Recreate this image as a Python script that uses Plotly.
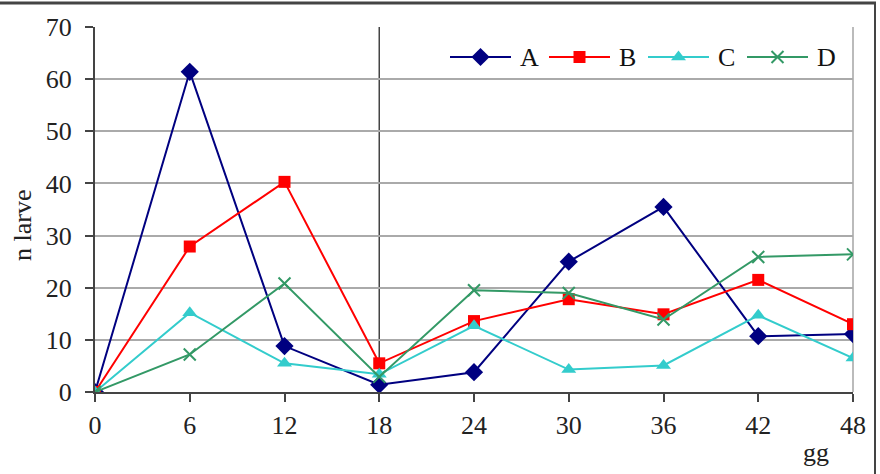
import plotly.graph_objects as go

days = [0, 6, 12, 18, 24, 30, 36, 42, 48]
series_a = [0, 61.4, 8.8, 1.4, 3.8, 25.0, 35.5, 10.7, 11.1]
series_b = [0, 27.9, 40.3, 5.5, 13.6, 17.8, 14.9, 21.5, 13.0]
series_c = [0, 15.2, 5.5, 3.4, 12.7, 4.3, 5.1, 14.7, 6.5]
series_d = [0, 7.2, 20.8, 2.9, 19.5, 19.0, 13.9, 25.9, 26.4]
names = ["A", "B", "C", "D"]
divider_day = 18
y_ticks = [0, 10, 20, 30, 40, 50, 60, 70]

FONT = "'Liberation Serif', 'Times New Roman', Times, serif"

W, H = 880, 474
ML, MR, MT, MB = 95, 27, 27, 82
PW, PH = W - ML - MR, H - MT - MB


def px_x(p):
    return (p - ML) / PW


def px_y(p):
    return (H - MB - p) / PH


styles = [
    dict(color="#000080", symbol="diamond", size=14),
    dict(color="#FF0000", symbol="square", size=12),
    dict(color="#33CCCC", symbol="triangle-up", size=13),
    dict(color="#339966", symbol="x-thin", size=12),
]


def make_marker(st):
    m = dict(symbol=st["symbol"], size=st["size"], color=st["color"])
    if st["symbol"] == "x-thin":
        m["line"] = dict(color=st["color"], width=2)
    return m


fig = go.Figure()
for name, vals, st in zip(names, [series_a, series_b, series_c, series_d], styles):
    fig.add_trace(go.Scatter(
        x=days, y=vals, name=name, mode="lines+markers",
        line=dict(color=st["color"], width=2),
        marker=make_marker(st), showlegend=False,
    ))

# manual legend (layout decoration) on an overlay axis in [0,1] units
leg_left, leg_step, leg_line, leg_y, leg_gap = 450, 99, 61, 57, 7
for i, (name, st) in enumerate(zip(names, styles)):
    x0 = leg_left + i * leg_step
    x1 = x0 + leg_line
    fig.add_trace(go.Scatter(
        x=[px_x(x0), px_x(x1)], y=[px_y(leg_y)] * 2, mode="lines",
        line=dict(color=st["color"], width=2), xaxis="x2", yaxis="y2",
        showlegend=False, hoverinfo="skip",
    ))
    fig.add_trace(go.Scatter(
        x=[px_x((x0 + x1) / 2)], y=[px_y(leg_y)], mode="markers",
        marker=make_marker(st), xaxis="x2", yaxis="y2",
        showlegend=False, hoverinfo="skip",
    ))
    fig.add_annotation(text=name, xref="paper", yref="paper",
                       x=px_x(x1 + leg_gap), y=px_y(leg_y + 1),
                       xanchor="left", yanchor="middle", showarrow=False,
                       font=dict(family=FONT, size=26, color="#111"))

fig.update_layout(
    width=W, height=H,
    margin=dict(l=ML, r=MR, t=MT, b=MB),
    paper_bgcolor="white", plot_bgcolor="white",
    font=dict(family=FONT, size=24, color="#222"),
    showlegend=False,
    xaxis2=dict(overlaying="x", range=[0, 1], visible=False, fixedrange=True),
    yaxis2=dict(overlaying="y", range=[0, 1], visible=False, fixedrange=True),
    xaxis=dict(
        range=[0, 48], tickvals=days, ticktext=[str(d) for d in days],
        showgrid=False, zeroline=False,
        showline=True, linecolor="#444", linewidth=2,
        ticks="outside", ticklen=8, tickcolor="#444", tickwidth=2,
        tickfont=dict(family=FONT, size=26, color="#222"),
        ticklabelstandoff=1,
    ),
    yaxis=dict(
        range=[0, 70], tickvals=y_ticks,
        showgrid=True, gridcolor="#aaaaaa", gridwidth=2,
        zeroline=False,
        showline=True, linecolor="#444", linewidth=2,
        ticks="outside", ticklen=8, tickcolor="#444", tickwidth=2,
        tickfont=dict(family=FONT, size=26, color="#222"),
        ticklabelstandoff=8,
    ),
)

# plot-area right border (light)
fig.add_shape(type="line", xref="paper", yref="paper", x0=1, x1=1, y0=0, y1=1,
              line=dict(color="#bbbbbb", width=2), layer="below")
# vertical divider at day 18
fig.add_shape(type="line", xref="x", yref="paper", x0=divider_day, x1=divider_day, y0=0, y1=1,
              line=dict(color="#444", width=1.5), layer="below")

# outer frame: top and right edges
fig.add_shape(type="line", xref="paper", yref="paper", x0=px_x(0), x1=px_x(876),
              y0=px_y(3), y1=px_y(3), line=dict(color="#444", width=3))
fig.add_shape(type="line", xref="paper", yref="paper", x0=px_x(875), x1=px_x(875),
              y0=px_y(3), y1=px_y(H), line=dict(color="#444", width=2))

fig.add_annotation(text="n larve", xref="paper", yref="paper", x=px_x(22), y=px_y(226),
                   xanchor="center", yanchor="middle", textangle=-90, showarrow=False,
                   font=dict(family=FONT, size=26, color="#222"))
fig.add_annotation(text="gg", xref="paper", yref="paper", x=px_x(831), y=px_y(452),
                   xanchor="right", yanchor="middle", showarrow=False,
                   font=dict(family=FONT, size=26, color="#222"))

fig.write_html("out.html")
